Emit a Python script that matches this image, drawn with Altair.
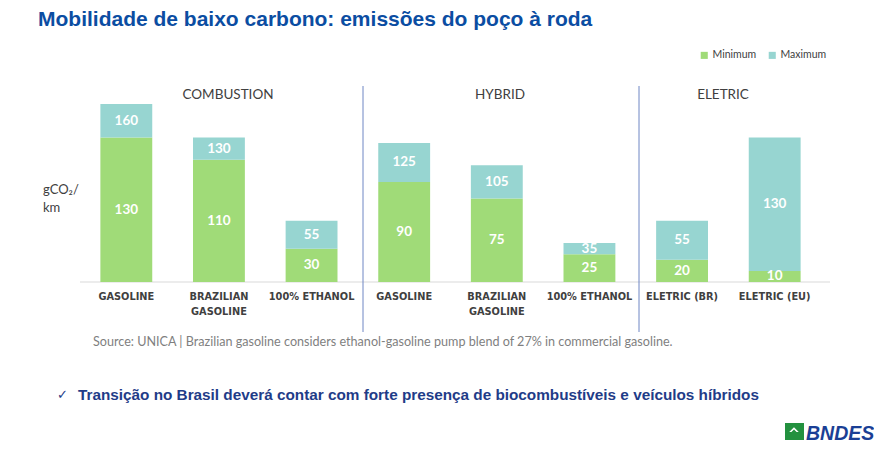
import altair as alt
import pandas as pd

# ---- data ----
ids = ["c_gas", "c_bra", "c_eth", "h_gas", "h_bra", "h_eth", "e_br", "e_eu"]
labels = ["GASOLINE", "BRAZILIAN\nGASOLINE", "100% ETHANOL", "GASOLINE",
          "BRAZILIAN\nGASOLINE", "100% ETHANOL", "ELETRIC (BR)", "ELETRIC (EU)"]
minimum = [130, 110, 30, 90, 75, 25, 20, 10]
maximum = [160, 130, 55, 125, 105, 35, 55, 130]
series = ["Minimum", "Maximum"]
colors = ["#A0DB78", "#97D5D1"]

rows = []
for i, cid in enumerate(ids):
    mn, mx = minimum[i], maximum[i]
    rows.append({"id": cid, "series": "Minimum", "lo": 0, "hi": mn,
                 "mid": mn / 2, "val": mn, "ord": 0})
    rows.append({"id": cid, "series": "Maximum", "lo": mn, "hi": mx,
                 "mid": (mn + mx) / 2, "val": mx, "ord": 1})
df = pd.DataFrame(rows)
lab_df = pd.DataFrame({"id": ids, "label": labels})

W, H = 866, 440
xs = alt.Scale(type="band", domain=ids, range=[72, 813],
               paddingInner=0.44, paddingOuter=0.22)
ys = alt.Scale(domain=[0, 160], range=[274, 96], nice=False, zero=True)

GRAY = "#404040"
NAVY = "#1F3C88"

bars = alt.Chart(df).mark_bar().encode(
    x=alt.X("id:N", scale=xs, axis=None),
    y=alt.Y("lo:Q", scale=ys, axis=None),
    y2="hi:Q",
    color=alt.Color("series:N",
                    scale=alt.Scale(domain=series, range=colors),
                    legend=alt.Legend(orient="none", legendX=691, legendY=42,
                                      direction="horizontal", title=None,
                                      symbolType="square", symbolSize=50,
                                      symbolStrokeWidth=0,
                                      labelFont="Lato", labelFontSize=10.5,
                                      labelColor=GRAY, labelOffset=3,
                                      columnPadding=10, padding=0)),
)

vals = alt.Chart(df).mark_text(color="white", font="Lato", fontWeight="bold",
                               fontSize=13.5, baseline="middle").encode(
    x=alt.X("id:N", scale=xs, axis=None),
    y=alt.Y("mid:Q", scale=ys, axis=None),
    text="val:N",
)

xlabels = alt.Chart(lab_df).mark_text(font="DejaVu Sans", fontWeight="bold",
                                      fontSize=9.8, color=GRAY, baseline="top",
                                      lineBreak="\n", lineHeight=15).encode(
    x=alt.X("id:N", scale=xs, axis=None),
    y=alt.value(284),
    text="label:N",
)


def note(text, x, y, **kw):
    return alt.Chart(pd.DataFrame({"t": [text]})).mark_text(**kw).encode(
        x=alt.value(x), y=alt.value(y), text="t:N")


def rule(x, x2, y, y2, color, w=1):
    return alt.Chart(pd.DataFrame({"a": [0]})).mark_rule(
        color=color, strokeWidth=w).encode(
        x=alt.value(x), x2=alt.value(x2), y=alt.value(y), y2=alt.value(y2))


baseline = rule(72, 822, 274, 274, "#D9D9D9")
sep1 = rule(355, 355, 78, 324, "#6F86C4")
sep2 = rule(631, 631, 78, 324, "#6F86C4")

title = note("Mobilidade de baixo carbono: emissões do poço à roda", 30, 18,
             font="Liberation Sans", fontWeight="bold", fontSize=21,
             color="#0B4DA2", align="left", baseline="alphabetic")

g1 = note("COMBUSTION", 220, 87, font="Lato", fontSize=13.5, color=GRAY,
          align="center", baseline="middle")
g2 = note("HYBRID", 492, 87, font="Lato", fontSize=13.5, color=GRAY,
          align="center", baseline="middle")
g3 = note("ELETRIC", 715, 87, font="Lato", fontSize=13.5, color=GRAY,
          align="center", baseline="middle")

yl1 = note("gCO₂/", 35, 182, font="Lato", fontSize=13, color=GRAY,
           align="left", baseline="middle")
yl2 = note("km", 35, 200, font="Lato", fontSize=13, color=GRAY,
           align="left", baseline="middle")

source = note("Source: UNICA |  Brazilian gasoline considers ethanol-gasoline "
              "pump blend of 27% in commercial gasoline.", 85, 334,
              font="Lato", fontSize=12.6, color="#7F7F7F", align="left",
              baseline="middle")

check = note("✓", 49, 387, font="DejaVu Sans", fontSize=13, color=NAVY,
             align="left", baseline="middle")
bullet = note("Transição no Brasil deverá contar com forte presença de "
              "biocombustíveis e veículos híbridos", 70, 387,
              font="Liberation Sans", fontWeight="bold", fontSize=15.3,
              color=NAVY, align="left", baseline="middle")

logo_box = alt.Chart(pd.DataFrame({"a": [0]})).mark_rect(color="#23913F").encode(
    x=alt.value(777), x2=alt.value(796), y=alt.value(415), y2=alt.value(432))
logo_mark = alt.Chart(pd.DataFrame({"a": [0]})).mark_point(
    shape="M-1,0.2L0,-0.8L1,0.2L0.55,0.2L0,-0.3L-0.55,0.2Z",
    filled=True, color="white", opacity=1, size=90).encode(
    x=alt.value(786), y=alt.value(423))
logo_text = note("BNDES", 798, 432, font="Liberation Sans",
                 fontWeight="bold", fontStyle="italic", fontSize=19.5,
                 color="#1A3F95", align="left", baseline="alphabetic")

chart = alt.layer(
    baseline, bars, vals, xlabels, sep1, sep2, title, g1, g2, g3, yl1, yl2,
    source, check, bullet, logo_box, logo_mark, logo_text
).properties(
    width=W, height=H, autosize="none", padding=0
).configure(
    background="white", view=alt.ViewConfig(strokeWidth=0, stroke=None)
)

chart.save("out.html", embed_options={"renderer": "svg", "actions": False})
